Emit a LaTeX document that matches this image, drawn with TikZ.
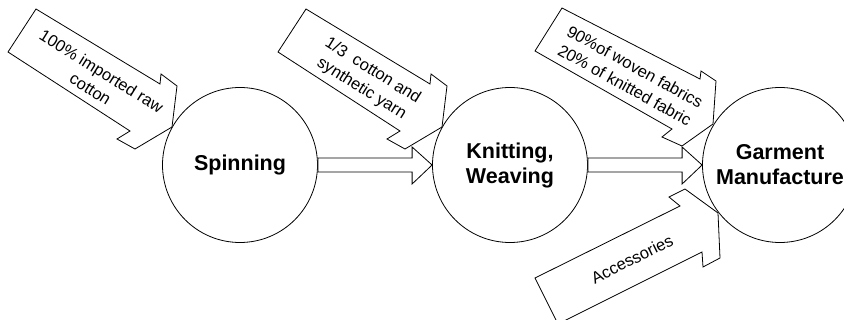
\documentclass[tikz,border=0pt]{standalone}
\usepackage{fontspec}
\setmainfont{Liberation Sans}
\usetikzlibrary{calc}
\begin{document}
\begin{tikzpicture}[x=1pt,y=-1pt,
  stage/.style={draw, circle, minimum size=155pt, inner sep=0pt, line width=0.8pt,
    font=\fontsize{21.5}{25}\selectfont\bfseries, align=center},
  blk/.style={draw, line width=0.8pt, fill=white, line join=miter},
  lbl/.style={font=\fontsize{16.5}{21}\selectfont, align=center, inner sep=0pt}]
\useasboundingbox (0,0) rectangle (844,320);
\clip (0,0) rectangle (844,320);
% stages
\node[stage] (spin) at (240,165) {Spinning};
\node[stage] (knit) at (510,165) {Knitting,\\Weaving};
\node[stage] (garm) at (780,165) {Garment\\Manufacture};
% horizontal block arrows
\draw[blk] ($(spin.east)+(0,-7)$) -- ($(knit.west)+(-20,-7)$) -- ($(knit.west)+(-20,-18)$)
  -- (knit.west) -- ($(knit.west)+(-20,19)$) -- ($(knit.west)+(-20,7)$) -- ($(spin.east)+(0,7)$) -- cycle;
\draw[blk] ($(knit.east)+(0,-7)$) -- ($(garm.west)+(-20,-7)$) -- ($(garm.west)+(-20,-18)$)
  -- (garm.west) -- ($(garm.west)+(-20,19)$) -- ($(garm.west)+(-20,7)$) -- ($(knit.east)+(0,7)$) -- cycle;
% input arrow to Spinning
\draw[blk] (36,9) -- (160,84) -- (161,74) -- (177,86) -- (172,127) -- (135,149) -- (117,139) -- (130,131) -- (8,52) -- cycle;
\node[lbl, rotate=-32] (in1) at (96,80) {100\% imported raw\\cotton};
% input arrow to Knitting
\draw[blk] (306,9) -- (430,84) -- (431,74) -- (447,86) -- (442,127) -- (405,149) -- (387,139) -- (400,131) -- (278,52) -- cycle;
\node[lbl, rotate=-32] (in2) at (367,80) {1/3\ \ cotton and\\synthetic yarn};
% input arrow to Garment
\draw[blk] (562,8) -- (700,79) -- (701,71) -- (716,81) -- (713,124) -- (682,146) -- (662,137) -- (672,129) -- (535,51) -- cycle;
\node[lbl, rotate=-29] (in3) at (630,76) {90\%of woven fabrics\\20\% of knitted fabric};
% accessories arrow
\draw[blk] (535,278) -- (680,206) -- (669,197) -- (685,189) -- (718,213) -- (720,258) -- (703,267) -- (702,252) -- (558,324) -- cycle;
\node[lbl, rotate=26.5] (in4) at (632,259) {Accessories};
\end{tikzpicture}
\end{document}
